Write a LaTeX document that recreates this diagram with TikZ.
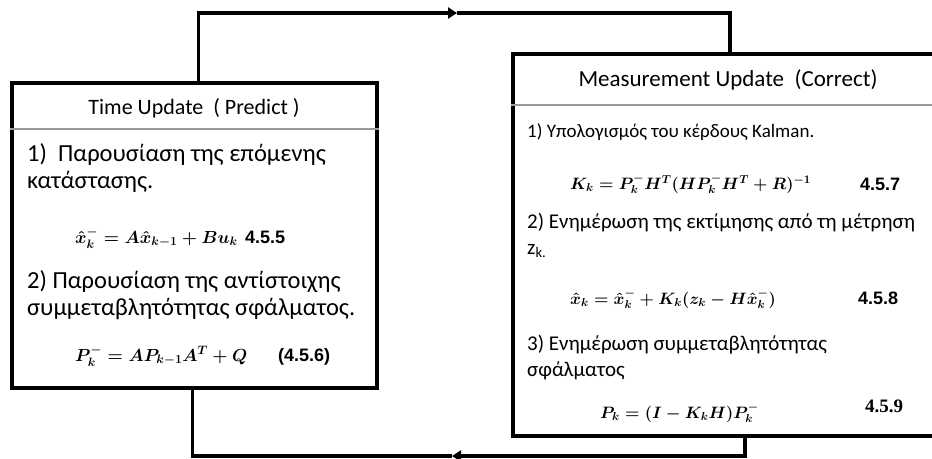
\RequirePackage{fix-cm}
\documentclass[tikz,border=0pt]{standalone}
\usepackage[no-math]{fontspec}
\usepackage{amsmath}
\setmainfont{Carlito}
\newfontfamily\numsans{Liberation Sans}
\newfontfamily\numserif{Liberation Serif}
\usetikzlibrary{arrows.meta,positioning}

\begin{document}
\begin{tikzpicture}[
  x=1pt, y=-1pt,
  panel/.style={draw, line width=4pt, inner sep=0pt},
  sep/.style={draw=black!40, line width=2pt},
  link/.style={line width=3.5pt},
  head/.style={inner sep=0pt, font=\fontsize{22}{26}\selectfont},
  txt/.style={anchor=base west, inner sep=0pt, align=left, font=\fontsize{24.5}{27}\selectfont},
  txtr/.style={txt, font=\fontsize{21}{26}\selectfont},
  eqn/.style={anchor=base west, inner sep=0pt, font=\fontsize{17.5}{22}\selectfont\boldmath},
  eqnr/.style={eqn, font=\fontsize{16.5}{20}\selectfont\boldmath},
  num/.style={anchor=base west, inner sep=0pt, font=\fontsize{18}{22}\selectfont\numsans\bfseries}
]
\useasboundingbox (0,0) rectangle (932,458);

% the two update boxes
\node[panel, minimum width=365pt, minimum height=305pt] (tu) at (194.5,235.5) {};
\node[panel, minimum width=434pt, minimum height=382pt] (mu) at (730,245) {};
\draw[sep] ([yshift=-47.5pt]tu.north west) -- ([yshift=-47.5pt]tu.north east);
\draw[sep] ([yshift=-53pt]mu.north west) -- ([yshift=-53pt]mu.north east);

% time update (multi-line texts sit on their last baseline)
\node[head] (tutitle) at (194,108) {Time Update\ \ ( Predict )};
\node[txt] (tu1) at (27,188) {1)\ \ Παρουσίαση της επόμενης\\κατάστασης.};
\node[eqn] (tueq1) at (75,243) {$\hat{x}_k^{-} = A\hat{x}_{k-1} + Bu_k$};
\node[num] (tun1) at (245,243) {4.5.5};
\node[txt] (tu2) at (27,315) {2) Παρουσίαση της αντίστοιχης\\συμμεταβλητότητας σφάλματος.};
\node[eqn] (tueq2) at (75,361) {$P_k^{-} = AP_{k-1}A^T + Q$};
\node[num] (tun2) at (278,361) {(4.5.6)};

% measurement update
\node[head, font=\fontsize{23}{27}\selectfont] (mutitle) at (728,80) {Measurement Update\ \ (Correct)};
\node[txtr, font=\fontsize{19}{26}\selectfont] (mu1) at (527,137) {1) Υπολογισμός του κέρδους Kalman.};
\node[eqnr] (mueq1) at (570,189) {$K_k = P_k^{-}H^T(HP_k^{-}H^T + R)^{-1}$};
\node[num] (mun1) at (860,190) {4.5.7};
\node[txtr] (mu2) at (527,254) {2) Ενημέρωση της εκτίμησης από τη μέτρηση\\z\textsubscript{k.}};
\node[eqnr] (mueq2) at (570,304) {$\hat{x}_k = \hat{x}_k^{-} + K_k(z_k - H\hat{x}_k^{-})$};
\node[num] (mun2) at (858,304) {4.5.8};
\node[txtr] (mu3) at (527,376) {3) Ενημέρωση συμμεταβλητότητας\\σφάλματος};
\node[eqnr] (mueq3) at (600,418) {$P_k = (I - K_kH)P_k^{-}$};
\node[num, font=\fontsize{19}{22}\selectfont\numserif\bfseries] (mun3) at (865,412) {4.5.9};

% feedback loop
\coordinate (top) at (457,13);
\coordinate (bot) at (452,456);
\draw[link, -{Triangle[length=9pt, width=11pt]}] ([xshift=4pt]tu.north) |- (top);
\draw[link] (top) -| (mu.north);
\draw[link, -{Triangle[length=9pt, width=11pt]}] ([xshift=15pt]mu.south) |- (bot);
\draw[link] (bot) -| ([xshift=-2pt]tu.south);
\end{tikzpicture}
\end{document}
